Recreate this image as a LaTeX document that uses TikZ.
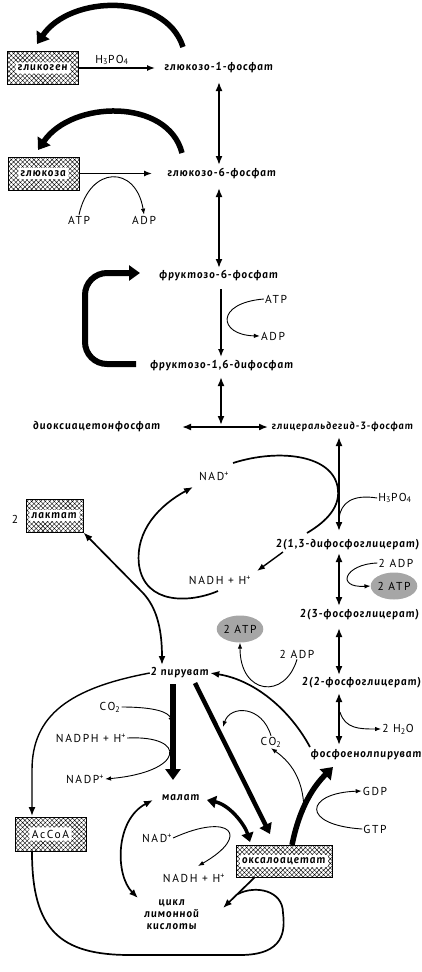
\documentclass[tikz,border=0pt]{standalone}
\usepackage{fontspec}
\setmainfont{PT Sans}
\newfontfamily\cyr{PT Sans}[LetterSpace=8, BoldItalicFeatures={FakeSlant=-0.15}]
\newfontfamily\lat{PT Sans}[LetterSpace=14]
\usetikzlibrary{arrows.meta,patterns.meta,calc,shapes.geometric}
\begin{document}
\begin{tikzpicture}[x=1pt,y=-1pt,
  every node/.style={inner sep=1pt},
  cy/.style={font=\cyr\bfseries\itshape\fontsize{11.5}{12}\selectfont},
  la/.style={font=\lat\fontsize{11.5}{12}\selectfont},
  hbox/.style={draw, line width=1pt, pattern={Hatch[angle=45,distance=3.2pt,line width=0.4pt]}},
  btext/.style={fill=white, inner sep=2.5pt, rounded corners=2pt},
  atpell/.style={ellipse, fill=black!35, minimum width=46pt, minimum height=27pt, inner sep=0pt, font=\lat\fontsize{11.5}{12}\selectfont},
  arr/.style={line width=1.4pt, -{Latex[length=8pt,width=6pt]}},
  dbl/.style={line width=1.7pt, {Latex[length=9pt,width=7pt]}-{Latex[length=9pt,width=7pt]}},
  thin/.style={line width=0.9pt},
  tarr/.style={line width=0.9pt, -{Latex[length=6pt,width=4.5pt]}},
  thk/.style={line width=#1, -{Triangle[length=11pt,width=15pt]}},
  thk/.default=5.5pt,
  mid/.style={line width=#1, {Triangle[length=9pt,width=12pt]}-{Triangle[length=9pt,width=12pt]}},
  mid/.default=3.5pt
]
\useasboundingbox (0,0) rectangle (421,972);
% ---------- boxes ----------
\node[hbox, minimum width=71pt, minimum height=33pt] (glyc) at (43,68) {};
\node[btext, cy] (glyct) at (glyc) {гликоген};
\node[hbox, minimum width=71pt, minimum height=33pt] (glu) at (43.5,173.5) {};
\node[btext, cy] (glut) at (glu) {глюкоза};
\node[hbox, minimum width=57pt, minimum height=33pt] (lac) at (54.5,515.5) {};
\node[btext, cy] (lact) at (lac) {лактат};
\node[hbox, minimum width=71pt, minimum height=34pt] (acoa) at (50.5,834) {};
\node[btext, la] (acoat) at (acoa) {AcCoA};
\node[hbox, minimum width=96pt, minimum height=32pt] (oaa) at (284,861) {};
\node[btext, cy] (oaat) at (oaa) {оксалоацетат};
% ---------- texts ----------
\node[cy] (g1p) at (219,68) {глюкозо-1-фосфат};
\node[la] (h3a) at (112,60) {H\textsubscript{3}PO\textsubscript{4}};
\node[cy] (g6p) at (222,174) {глюкозо-6-фосфат};
\node[la] (atp1) at (79,220) {ATP};
\node[la] (adp1) at (144,220) {ADP};
\node[cy] (f6p) at (219,276) {фруктозо-6-фосфат};
\node[la] (atp2) at (276,299) {ATP};
\node[la] (adp2) at (273,336) {ADP};
\node[cy] (fbp) at (222,366) {фруктозо-1,6-дифосфат};
\node[cy] (dhap) at (97,427) {диоксиацетонфосфат};
\node[cy, anchor=west, font=\cyr\bfseries\itshape\fontsize{10.6}{12}\selectfont] (gap) at (271,427) {глицеральдегид-3-фосфат};
\node[la] (nad1) at (214,476) {NAD\textsuperscript{+}};
\node[la] (h3b) at (395,498) {H\textsubscript{3}PO\textsubscript{4}};
\node[la] (two) at (15,519) {2};
\node[cy, anchor=west] (bpg) at (275,545) {2(1,3-дифосфоглицерат)};
\node[la] (nadh1) at (220,580) {NADH + H\textsuperscript{+}};
\node[la] (adp3) at (396,563) {2 ADP};
\node[atpell] (atp3) at (394,586) {2 ATP};
\node[cy, anchor=west] (pg3) at (299,615) {2(3-фосфоглицерат)};
\node[atpell] (atp4) at (240,629) {2 ATP};
\node[la] (adp4) at (297,654) {2 ADP};
\node[cy] (pyr) at (180,673) {2 пируват};
\node[cy, anchor=west] (pg2) at (301,683) {2(2-фосфоглицерат)};
\node[la] (co2a) at (110,707) {CO\textsubscript{2}};
\node[la] (h2o) at (398,729) {2 H\textsubscript{2}O};
\node[la] (nadph) at (91,738) {NADPH + H\textsuperscript{+}};
\node[la] (co2b) at (271,742) {CO\textsubscript{2}};
\node[cy, anchor=west] (pep) at (310,755) {фосфоенолпируват};
\node[la] (nadp) at (85,779) {NADP\textsuperscript{+}};
\node[la] (gdp) at (375,791) {GDP};
\node[cy] (mal) at (181,798) {малат};
\node[la] (gtp) at (375,829) {GTP};
\node[la] (nad2) at (157,838) {NAD\textsuperscript{+}};
\node[la] (nadh2) at (194,878) {NADH + H\textsuperscript{+}};
\node[cy, align=center] (cyc) at (172,915) {цикл\\лимонной\\кислоты};
% ---------- upper part ----------
\coordinate (a1s) at (183,47); \coordinate (a1e) at (37,44);
\draw[thk] (a1s) .. controls (165,-8) and (70,-5) .. (a1e);
\draw[arr] (glyc.east) -- (glyc.east -| 155,0);
\coordinate (a2s) at (182,153); \coordinate (a2e) at (38,150);
\draw[thk] (a2s) .. controls (168,98) and (72,100) .. (a2e);
\draw[arr] (glu.east) -- (glu.east -| 152,0);
\draw[dbl] (219,82) -- (219,165);
\draw[tarr] (atp1.north) .. controls (90,165) and (136,165) .. (adp1.north);
\draw[dbl] (219,188) -- (219,268);
\coordinate (cs) at (136,364); \coordinate (ce) at (140,273);
\draw[thk=6pt, rounded corners=22pt] (cs) -- (85,364) -- (85,273) -- (ce);
\draw[arr] (221,289) -- (221,357);
\draw[tarr] (atp2.west) .. controls (215,303) and (218,335) .. (adp2.west);
\draw[dbl] (221,377) -- (221,425);
\draw[dbl] (182,427) -- (268,427);
% ---------- glycolysis lower ----------
\draw[dbl] (339,437) -- (339,531);
\draw[thin] (h3b.west) .. controls (352,494) and (341,503) .. (339,518);
\draw[line width=1.7pt] (233,463) .. controls (280,448) and (335,455) .. (338,490)
   .. controls (340,510) and (322,524) .. (307,533);
\coordinate (bn) at (283,552);
\draw[arr] (bn) -- (257,571);
\draw[line width=1.7pt, -{Latex[length=9pt,width=7pt]}] (218,591) .. controls (190,603) and (145,605) .. (139,565)
   .. controls (135,530) and (160,505) .. (193,487);
\draw[dbl] (339,553) -- (339,606);
\draw[tarr] (adp3.west) .. controls (345,564) and (335,588) .. (atp3.west);
\draw[dbl] (339,628) -- (339,675);
\draw[tarr] (adp4.south) .. controls (285,700) and (240,695) .. (atp4.south);
\draw[dbl] (339,693) -- (339,745);
\draw[tarr] (340,712) .. controls (345,729) and (360,729) .. (h2o.west);
% lactate <-> pyruvate
\draw[dbl] (lac.south east) -- (143,593) .. controls (155,606) and (162,625) .. (162,665);
% pep -> pyruvate
\draw[line width=1.7pt, -{Latex[length=9pt,width=7pt]}] (310,747) .. controls (290,710) and (255,680) .. (pyr.east);
\draw[tarr] (co2b.north) .. controls (262,705) and (230,705) .. (223,727);
% pyruvate -> malate
\draw[thk] (173,684) -- (173,780);
\draw[tarr] (co2a.east) .. controls (155,707) and (168,712) .. (173,723);
\draw[tarr] (nadph.east) .. controls (188,735) and (185,772) .. (nadp.east);
% pyruvate -> oaa
\draw[line width=4.5pt, -{Triangle[length=10pt,width=13pt]}] (195,683) -- (270,834);
% malate <-> oaa
\draw[mid] (207,800) .. controls (230,805) and (245,825) .. (250,842);
\draw[tarr] (nad2.east) .. controls (230,812) and (252,835) .. (198,866);
% oaa -> pep
\draw[thk] (292,845) .. controls (300,805) and (315,785) .. (333,767);
\draw[tarr] (304,812) .. controls (304,785) and (295,765) .. (co2b.south);
\draw[tarr] (gtp.west) .. controls (300,825) and (305,793) .. (gdp.west);
% malate <-> cycle
\draw[dbl] (153,800) .. controls (115,820) and (115,875) .. (138,898);
% pyruvate -> AcCoA
\draw[line width=1.4pt, -{Latex[length=9pt,width=7pt]}] (pyr.west) .. controls (70,688) and (32,715) .. (32,770) -- (32,816);
% AcCoA -> cycle
\draw[line width=1.7pt] (32,852) .. controls (32,930) and (60,955) .. (130,955) -- (240,955)
   .. controls (285,955) and (285,930) .. (283,913) .. controls (283,890) and (255,885) .. (238,894);
\draw[line width=1.7pt, -{Latex[length=9pt,width=7pt]}] (255,877) -- (223,908);
\end{tikzpicture}
\end{document}
